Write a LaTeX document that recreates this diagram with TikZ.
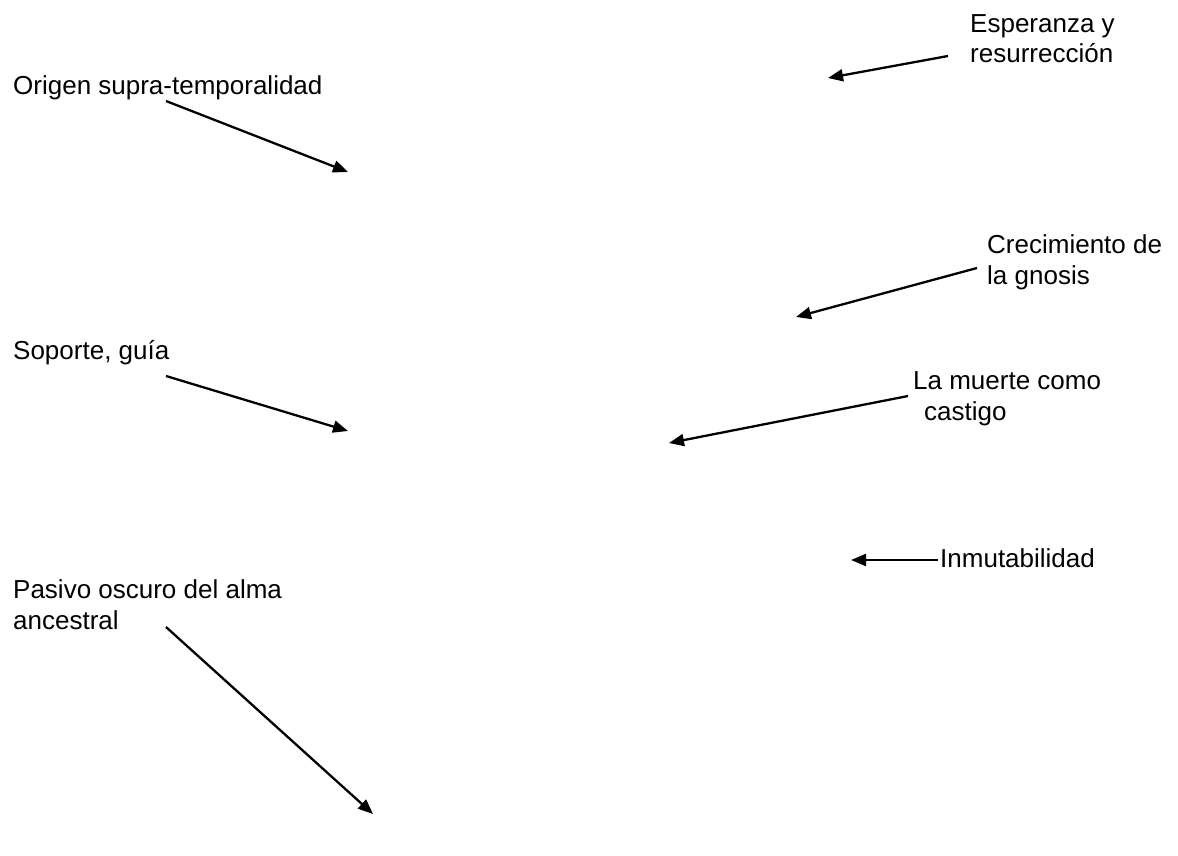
\documentclass[tikz,border=0pt]{standalone}
\usepackage{fontspec}
\setmainfont{Liberation Sans}
\usetikzlibrary{arrows.meta}
\begin{document}
\begin{tikzpicture}[x=1pt,y=-1pt,
  lbl/.style={anchor=base west,inner sep=0pt,align=left,
    font=\fontsize{26}{30.5}\selectfont},
  pointer/.style={line width=2.3pt,-{Triangle[length=15pt,width=12pt]}}]
  \useasboundingbox[fill=white] (0,0) rectangle (1178,856);

  % labels (base anchor = baseline of the last line)
  \node[lbl] (esp) at (970,63) {Esperanza y\\resurrección};
  \node[lbl] (ori) at (13,95) {Origen supra-temporalidad};
  \node[lbl] (cre) at (987,284) {Crecimiento de\\la gnosis};
  \node[lbl] (sop) at (13,359) {Soporte, guía};
  \node[lbl] (mue) at (913,420) {La muerte como\\\hspace*{11pt}castigo};
  \node[lbl] (inm) at (940,567) {Inmutabilidad};
  \node[lbl] (pas) at (13,629) {Pasivo oscuro del alma\\ancestral};

  % arrow tails
  \coordinate (esp-s) at (948,56);
  \coordinate (ori-s) at (166,101);
  \coordinate (cre-s) at (977,268);
  \coordinate (sop-s) at (166,376);
  \coordinate (mue-s) at (908,396);
  \coordinate (inm-s) at (938,560);
  \coordinate (pas-s) at (166,627);

  % arrow tips
  \coordinate (esp-t) at (828,78);
  \coordinate (ori-t) at (348,172);
  \coordinate (cre-t) at (796,317);
  \coordinate (sop-t) at (348,431);
  \coordinate (mue-t) at (669,443);
  \coordinate (inm-t) at (851,560);
  \coordinate (pas-t) at (373,814);

  \foreach \n in {esp,ori,cre,sop,mue,inm,pas}
    \draw[pointer] (\n-s) -- (\n-t);
\end{tikzpicture}
\end{document}
